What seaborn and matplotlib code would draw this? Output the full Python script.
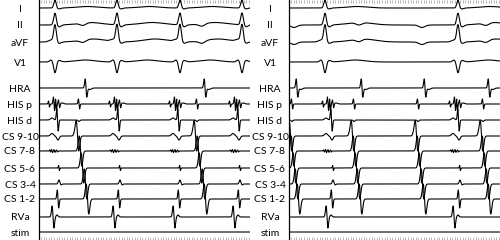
import numpy as np
import pandas as pd
import matplotlib
matplotlib.use("Agg")
import matplotlib.pyplot as plt
import seaborn as sns

channels = ["I", "II", "aVF", "V1", "HRA", "HIS p", "HIS d",
            "CS 9-10", "CS 7-8", "CS 5-6", "CS 3-4", "CS 1-2", "RVa", "stim"]

# event timings (time axis, in pixel units of the recording)
left_qrs = [55, 117, 180, 242]          # surface QRS
left_v = [56, 117, 177, 237]            # intracardiac ventricular activation
left_hra = [86, 205]                    # high right atrium activation
left_cs = [77, 195]                     # large CS atrial electrograms
left_cs_delay = [0, 3, 5, 8, 10]        # CS 9-10 -> CS 1-2

right_qrs = [325, 458]
right_v = [330, 457]
right_hra = [297, 362, 425, 489]
right_cs = [290, 352, 416, 481]
right_cs_delay = [0, 2, 4, 6, 8]

# electrogram components: (event, offset, upward amplitude, width, shape)
templates = {
    "I":      [("Q", 0, 8, 1.2, "g"), ("Q", 3.5, -1, 2, "g"), ("Q", 32, 1.5, 10, "g")],
    "II":     [("Q", 0, 12, 1.3, "g"), ("Q", 4, -2, 2, "g"), ("Q", 35, 2.5, 12, "g"),
               ("A", -3, -2.5, 3, "g")],
    "aVF":    [("Q", -4, 2, 2.5, "g"), ("Q", 0, 17, 1.3, "g"), ("Q", 4, -1.5, 2, "g"),
               ("Q", 38, 3, 12, "g"), ("A", -3, -2.5, 3, "g")],
    "V1":     [("Q", -4, 2, 1.5, "g"), ("Q", 0, -11, 1.3, "g"), ("Q", 4, 1.5, 2, "g"),
               ("Q", 30, 2, 10, "g")],
    "HRA":    [("A", 0, 9, 0.8, "d"), ("A", 4, -1.5, 1.5, "g")],
    "HIS p":  [("V", -7, 3, 0.5, "d"), ("V", -2, 7, 0.6, "d"), ("V", 0, 6, 0.5, "d"),
               ("V", 3, 4, 0.6, "d"), ("V", 6, 1, 1.5, "g"), ("C", 2, 5, 0.6, "d")],
    "HIS d":  [("V", -4, 2, 1.5, "g"), ("V", 1.5, 11, 0.7, "d"), ("C", 2, -1.5, 0.8, "g")],
    "CS 9-10": [("V", -4, 2.5, 1.5, "g"), ("V", 2, -4, 1.2, "g"),
                ("C", -2.5, 2, 1.0, "g"), ("C", 0.5, 15, 1.3, "d")],
    "CS 7-8": [("V", -6, 1.0, 0.5, "d"), ("V", -4, 1.5, 0.5, "d"), ("V", -1.5, 1.3, 0.5, "d"),
               ("V", 1, 1.0, 0.5, "d"), ("C", 0.5, 15, 1.3, "d")],
    "CS 5-6": [("V", 3, 2.5, 0.4, "d"), ("C", 0.5, 15, 1.3, "d")],
    "CS 3-4": [("V", 3, 4, 0.8, "g"), ("V", 5, -1, 0.8, "g"), ("C", 0.5, 15, 1.3, "d")],
    "CS 1-2": [("V", 2, 9, 0.7, "d"), ("C", 0.5, 15, 1.3, "d")],
    "RVa":    [("V", -3, 11, 0.9, "d"), ("V", 1, 2, 1.0, "g")],
    "stim":   [],
}

# ---------------- layout ----------------
row_y = [8, 25, 42, 62, 88, 104, 120, 136, 151, 168, 184, 199, 217, 232]
cs_rows = ["CS 9-10", "CS 7-8", "CS 5-6", "CS 3-4", "CS 1-2"]


def shape(t, centre, amp, w, kind):
    u = (t - centre) / w
    if kind == "g":
        return amp * np.exp(-0.5 * u ** 2)
    return amp * (-u) * np.exp(0.5 - 0.5 * u ** 2)


def build(t, qrs, v, hra, cs, delays):
    frames = []
    for ch, base in zip(channels, row_y):
        sig = np.zeros_like(t)
        for ev, off, amp, w, kind in templates[ch]:
            if ev == "Q":
                times = qrs
            elif ev == "V":
                times = v
            elif ev == "A":
                times = hra
            else:
                d = delays[cs_rows.index(ch)] if ch in cs_rows else 0
                times = [c + d for c in cs]
            for tt in times:
                sig += shape(t, tt + off, amp, w, kind)
        frames.append(pd.DataFrame({"t": t, "y": base - sig, "ch": ch}))
    return pd.concat(frames, ignore_index=True)


sns.set_style("white")
plt.rcParams["font.family"] = ["Lato", "DejaVu Sans"]

fig = plt.figure(figsize=(5.0, 2.4), dpi=100)
panels = [
    (fig.add_axes([39 / 500, 0, 211 / 500, 1]), (39, 250), left_qrs, left_v, left_hra, left_cs, left_cs_delay),
    (fig.add_axes([289 / 500, 0, 211 / 500, 1]), (289, 500), right_qrs, right_v, right_hra, right_cs, right_cs_delay),
]

for ax, (x0, x1), qrs, v, hra, cs, delays in panels:
    t = np.arange(x0, x1, 0.1)
    df = build(t, qrs, v, hra, cs, delays)
    sns.lineplot(data=df, x="t", y="y", units="ch", estimator=None, sort=False,
                 color="black", linewidth=0.8, ax=ax, legend=False)
    ax.set_xlim(x0, x1)
    ax.set_ylim(240, 0)
    ax.set_xlabel("")
    ax.set_ylabel("")
    for s in ["top", "right", "bottom"]:
        ax.spines[s].set_visible(False)
    ax.spines["left"].set_color("black")
    ax.spines["left"].set_linewidth(0.9)
    # time ruler ticks at top and bottom
    ax.set_xticks(np.arange(x0 + 2, x1, 2.6))
    ax.tick_params(axis="x", which="both", top=True, bottom=True, direction="in",
                   length=2.5, width=0.5, color="0.6", labelbottom=False, labeltop=False)
    ax.set_yticks(row_y)
    ax.set_yticklabels(channels)
    ax.tick_params(axis="y", length=0, pad=13.7, labelsize=7.5, labelcolor="black")
    for lab in ax.get_yticklabels():
        lab.set_horizontalalignment("center")

fig.savefig("out.png", dpi=100)
